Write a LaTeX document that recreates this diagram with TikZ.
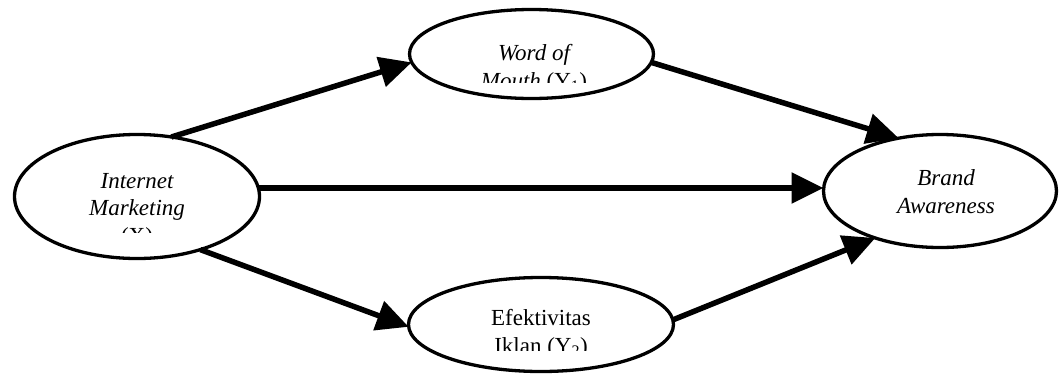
\documentclass[tikz,border=0pt]{standalone}
\usepackage{fontspec}
\setmainfont{Liberation Serif}
\usetikzlibrary{shapes.geometric,arrows.meta}
\tikzset{
  oval/.style={ellipse,draw,line width=3.3pt,inner sep=0pt,outer sep=0pt},
  lbl/.style={anchor=base,inner sep=0pt,font=\fontsize{23}{28}\selectfont},
  arr/.style={line width=5.5pt,-{Triangle[length=32pt,width=30pt]}}
}
\begin{document}
\begin{tikzpicture}[x=1pt,y=-1pt]
\useasboundingbox (0,0) rectangle (1061,378);
% ovals
\node[oval,minimum width=245pt,minimum height=124pt] (im) at (137,196.5) {};
\node[oval,minimum width=244pt,minimum height=89pt] (wom) at (531.5,54) {};
\node[oval,minimum width=233pt,minimum height=113pt] (ba) at (940,191) {};
\node[oval,minimum width=265pt,minimum height=94pt] (eff) at (541,324.5) {};
% labels (clipped as in the original)
\begin{scope}
  \clip (400,0) rectangle (660,82);
  \node[lbl,font=\fontsize{23}{28}\selectfont\itshape] (wom1) at (534,60) {Word of};
  \node[lbl] (wom2) at (534,88) {\textit{Mouth} (Y\textsubscript{1})};
\end{scope}
\begin{scope}
  \clip (0,150) rectangle (270,232);
  \node[lbl,font=\fontsize{23}{28}\selectfont\itshape] (im1) at (137,188) {Internet};
  \node[lbl,font=\fontsize{23}{28}\selectfont\itshape] (im2) at (137,215) {Marketing};
  \node[lbl] (im3) at (137,243) {(X)};
\end{scope}
\node[lbl,font=\fontsize{23}{28}\selectfont\itshape] (ba1) at (946,185) {Brand};
\node[lbl,font=\fontsize{23}{28}\selectfont\itshape] (ba2) at (946,213) {Awareness};
\begin{scope}
  \clip (400,280) rectangle (680,350);
  \node[lbl] (eff1) at (541,325) {Efektivitas};
  \node[lbl] (eff2) at (541,353) {Iklan (Y\textsubscript{2})};
\end{scope}
% arrows
\draw[arr] (im.60) -- (wom.184);
\draw[arr] (wom.356) -- (ba.128);
\draw[arr] (im.4) -- (im.4 -| ba.west);
\draw[arr] (im.320) -- (eff.181);
\draw[arr] (eff.2) -- (ba.216);
\end{tikzpicture}
\end{document}
